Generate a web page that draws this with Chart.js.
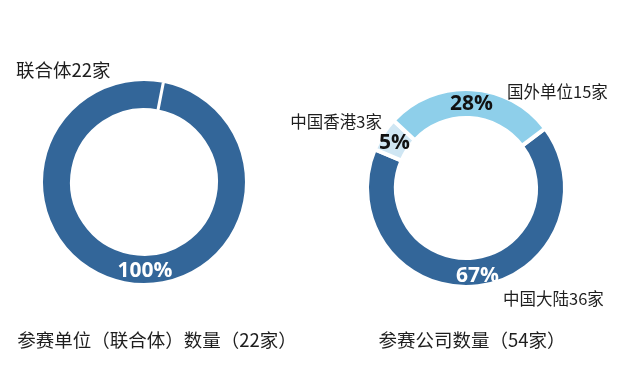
<!DOCTYPE html>
<html lang="zh">
<head>
<meta charset="UTF-8">
<title>参赛单位数量</title>
<script src="https://cdn.jsdelivr.net/npm/chart.js"></script>
<style>
  html, body { margin: 0; padding: 0; background: #fff; }
  .wrap { position: relative; width: 640px; height: 376px; overflow: hidden; }
  .box { position: absolute; top: 0; height: 376px; }
</style>
</head>
<body>
<div class="wrap">
  <div class="box" style="left:0;width:320px"><canvas id="unionChart" width="320" height="376"></canvas></div>
  <div class="box" style="left:270px;width:370px"><canvas id="companyChart" width="370" height="376"></canvas></div>
</div>
<script>
  // data
  const unionLabels = ['联合体'];
  const unionValues = [22];
  const unionColors = ['#336699'];
  const unionTitle = '参赛单位（联合体）数量（22家）';

  const companyLabels = ['中国大陆', '中国香港', '国外单位'];
  const companyValues = [36, 3, 15];
  const companyColors = ['#336699', '#cfe6f3', '#8ecfea'];
  const companyTitle = '参赛公司数量（54家）';

  const CJK = '"Noto Sans CJK SC", "Noto Sans", sans-serif';

  // percentages that add up to 100 (largest remainder)
  function roundPercents(values) {
    const total = values.reduce((a, b) => a + b, 0);
    const raw = values.map(v => v / total * 100);
    const out = raw.map(Math.floor);
    let left = 100 - out.reduce((a, b) => a + b, 0);
    const order = raw.map((r, i) => i).sort((a, b) => (raw[b] - Math.floor(raw[b])) - (raw[a] - Math.floor(raw[a])));
    for (let k = 0; k < left; k++) out[order[k]]++;
    return out;
  }

  // draws the % labels on the ring, the outer labels and the title under each ring
  const donutText = {
    id: 'donutText',
    afterDatasetsDraw(chart, args, opts) {
      const ctx = chart.ctx;
      const values = chart.data.datasets[0].data;
      const bw = chart.data.datasets[0].borderWidth || 0;
      const pct = roundPercents(values);
      const arcs = chart.getDatasetMeta(0).data;
      let cx = 0, cy = 0;
      arcs.forEach((arc, i) => {
        const p = arc.getProps(['x', 'y', 'startAngle', 'endAngle', 'outerRadius', 'innerRadius'], true);
        cx = p.x; cy = p.y;
        let mid = (p.startAngle + p.endAngle) / 2;
        if (p.endAngle - p.startAngle >= Math.PI * 2 - 1e-6) mid = Math.PI / 2;
        const r = (p.outerRadius + p.innerRadius) / 2 + opts.pctShift;
        const R = p.outerRadius - bw / 2;

        // labels are cut off at the box round the ring
        ctx.save();
        ctx.beginPath();
        ctx.rect(p.x - R, p.y - R, 2 * R, 2 * R);
        ctx.clip();
        ctx.font = 'bold 21px "Open Sans", sans-serif';
        ctx.fillStyle = opts.pctColors[i];
        ctx.textAlign = 'center';
        ctx.textBaseline = 'middle';
        ctx.fillText(pct[i] + '%', p.x + Math.cos(mid) * r + 1, p.y + Math.sin(mid) * r + 2);
        ctx.restore();

        const lab = opts.outer[i];
        ctx.save();
        ctx.font = lab.size + 'px ' + CJK;
        ctx.fillStyle = '#1e1e1e';
        ctx.textAlign = lab.align;
        ctx.textBaseline = 'middle';
        ctx.fillText(chart.data.labels[i] + values[i] + '家', p.x + lab.dx, p.y + lab.dy);
        ctx.restore();
      });

      ctx.save();
      ctx.font = '18.5px ' + CJK;
      ctx.fillStyle = '#1e1e1e';
      ctx.textAlign = 'center';
      ctx.textBaseline = 'middle';
      ctx.fillText(opts.title, cx + opts.titleDx, opts.titleY);
      ctx.restore();
    }
  };

  function makeDonut(id, labels, values, colors, cfg) {
    return new Chart(document.getElementById(id), {
      type: 'doughnut',
      data: {
        labels: labels,
        datasets: [{
          data: values,
          backgroundColor: colors,
          borderColor: '#ffffff',
          borderWidth: cfg.border,
          hoverOffset: 0
        }]
      },
      options: {
        responsive: false,
        animation: false,
        events: [],
        rotation: cfg.rotation,
        radius: cfg.radius,
        cutout: '70.7%',
        layout: { padding: cfg.padding },
        plugins: {
          legend: { display: false },
          tooltip: { enabled: false },
          donutText: cfg.text
        }
      },
      plugins: [donutText]
    });
  }

  makeDonut('unionChart', unionLabels, unionValues, unionColors, {
    border: 3,
    rotation: 11,
    radius: 102.5,
    padding: { left: 43, right: 75, top: 81, bottom: 93 },
    text: {
      pctShift: 0,
      pctColors: ['#ffffff'],
      outer: [{ dx: -128, dy: -112, align: 'left', size: 18.5 }],
      title: unionTitle, titleDx: 13, titleY: 340
    }
  });

  makeDonut('companyChart', companyLabels, companyValues, companyColors, {
    border: 4,
    rotation: 53,
    radius: 99,
    padding: { left: 99, right: 77, top: 91, bottom: 91 },
    text: {
      pctShift: 2,
      pctColors: ['#ffffff', '#111111', '#111111'],
      outer: [
        { dx: 37, dy: 111, align: 'left', size: 16.5 },
        { dx: -84, dy: -66, align: 'right', size: 16.5 },
        { dx: 41, dy: -96, align: 'left', size: 16.5 }
      ],
      title: companyTitle, titleDx: 6, titleY: 340
    }
  });
</script>
</body>
</html>
